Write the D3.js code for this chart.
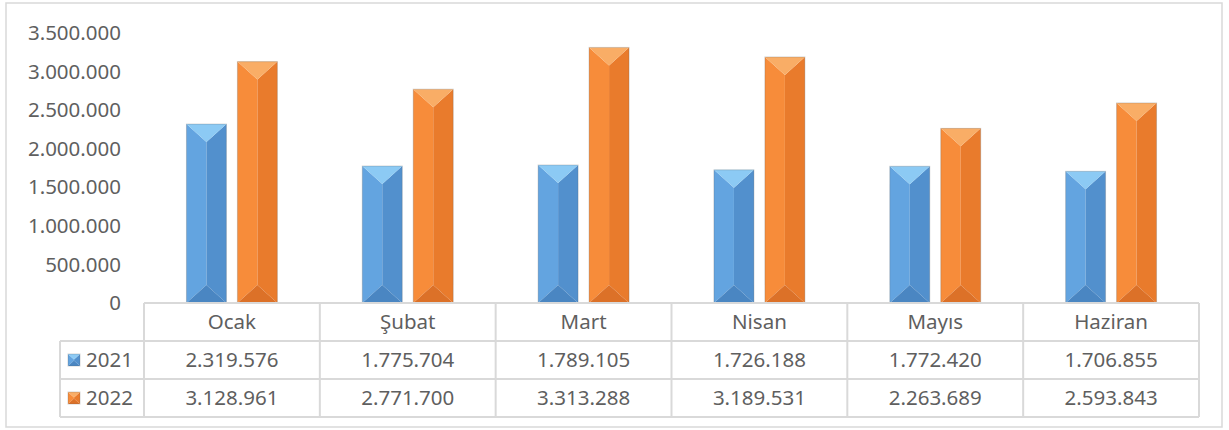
<!DOCTYPE html>
<html>
  <head>
    <meta charset="utf-8" />
    <script src="https://d3js.org/d3.v7.min.js"></script>
    <style>
      body { margin: 0; background: #fff; }
      svg text { font-family: "Noto Sans", sans-serif; fill: #5f5f5f; }
    </style>
  </head>
  <body>
    <svg id="chart" width="1229" height="430"></svg>
    <script>
      var months = ["Ocak", "Şubat", "Mart", "Nisan", "Mayıs", "Haziran"];
      var series = ["2021", "2022"];
      var values2021 = [2319576, 1775704, 1789105, 1726188, 1772420, 1706855];
      var values2022 = [3128961, 2771700, 3313288, 3189531, 2263689, 2593843];
      var ticks = [0, 500000, 1000000, 1500000, 2000000, 2500000, 3000000, 3500000];

      var svg = d3.select("#chart");
      var fmt = d3.formatLocale({ decimal: ",", thousands: ".", grouping: [3], currency: ["", ""] }).format(",d");
      var fs = "20.5px";

      // face colours: top, left, right, bottom
      var faces = {
        "2021": ["#8ccaf4", "#63a4e0", "#5290cd", "#4a86c2"],
        "2022": ["#f9ad66", "#f78c3a", "#e97b2c", "#dc7128"]
      };

      var plotLeft = 144, plotRight = 1199, plotTop = 33, zeroY = 303;
      var rowH = 38;

      var x = d3.scaleBand().domain(months).range([plotLeft, plotRight]);
      var x1 = d3.scaleBand().domain(series).range([0, x.bandwidth()])
        .paddingInner(0.2157).paddingOuter(0.833);
      var y = d3.scaleLinear().domain([0, 3500000]).range([zeroY, plotTop]);

      // outer frame
      svg.append("rect").attr("x", 6).attr("y", 3).attr("width", 1216).attr("height", 424)
        .attr("fill", "none").attr("stroke", "#d9d9d9").attr("stroke-width", 1.5);

      // y axis labels
      svg.append("g").selectAll("text").data(ticks).join("text")
        .attr("x", 121).attr("y", d => y(d)).attr("dy", "0.35em")
        .attr("text-anchor", "end").style("font-size", fs)
        .text(d => fmt(d));

      // bevelled bars
      function bevel(g, x0, w, yt, yb, cols) {
        var b = Math.min(w * 0.45, (yb - yt) / 2), xc = x0 + w / 2;
        g.append("polygon").attr("points", [[x0, yt], [xc, yt + b], [xc, yb - b], [x0, yb]].join(" ")).attr("fill", cols[1]);
        g.append("polygon").attr("points", [[x0 + w, yt], [xc, yt + b], [xc, yb - b], [x0 + w, yb]].join(" ")).attr("fill", cols[2]);
        g.append("polygon").attr("points", [[x0, yt], [x0 + w, yt], [xc, yt + b]].join(" ")).attr("fill", cols[0]);
        g.append("polygon").attr("points", [[x0, yb], [x0 + w, yb], [xc, yb - b]].join(" ")).attr("fill", cols[3]);
        g.append("rect").attr("x", x0).attr("y", yt).attr("width", w).attr("height", yb - yt)
          .attr("fill", "none").attr("stroke", "rgba(90,90,90,0.25)").attr("stroke-width", 1);
      }

      var data = months.map((m, i) => ({ month: m, "2021": values2021[i], "2022": values2022[i] }));
      var bars = svg.append("g");
      data.forEach(function (d) {
        series.forEach(function (s) {
          bevel(bars, x(d.month) + x1(s), x1.bandwidth(), y(d[s]), y(0), faces[s]);
        });
      });

      // data table
      var tbl = svg.append("g");
      var lineCol = "#d9d9d9";
      var legLeft = 60;
      months.forEach(function (m) {
        tbl.append("text").attr("x", x(m) + x.bandwidth() / 2).attr("y", zeroY + rowH / 2)
          .attr("dy", "0.35em").attr("text-anchor", "middle").style("font-size", fs).text(m);
      });
      series.forEach(function (s, r) {
        var vals = s === "2021" ? values2021 : values2022;
        var cy = zeroY + rowH * (r + 1) + rowH / 2;
        months.forEach(function (m, i) {
          tbl.append("text").attr("x", x(m) + x.bandwidth() / 2).attr("y", cy)
            .attr("dy", "0.35em").attr("text-anchor", "middle").style("font-size", fs).text(fmt(vals[i]));
        });
        bevel(tbl, 68, 12, cy - 6, cy + 6, faces[s]);
        tbl.append("text").attr("x", 86).attr("y", cy).attr("dy", "0.35em")
          .style("font-size", fs).text(s);
      });
      // table grid
      var bottom = zeroY + rowH * 3;
      var grid = tbl.append("g");
      grid.append("line").attr("x1", plotLeft).attr("x2", plotRight).attr("y1", zeroY).attr("y2", zeroY);
      [1, 2, 3].forEach(function (r) {
        grid.append("line").attr("x1", legLeft).attr("x2", plotRight).attr("y1", zeroY + rowH * r).attr("y2", zeroY + rowH * r);
      });
      grid.append("line").attr("x1", legLeft).attr("x2", legLeft).attr("y1", zeroY + rowH).attr("y2", bottom);
      months.concat(["end"]).forEach(function (m) {
        var xx = m === "end" ? plotRight : x(m);
        grid.append("line").attr("x1", xx).attr("x2", xx).attr("y1", zeroY).attr("y2", bottom);
      });
      grid.selectAll("line").attr("stroke", lineCol).attr("stroke-width", 2);
    </script>
  </body>
</html>
